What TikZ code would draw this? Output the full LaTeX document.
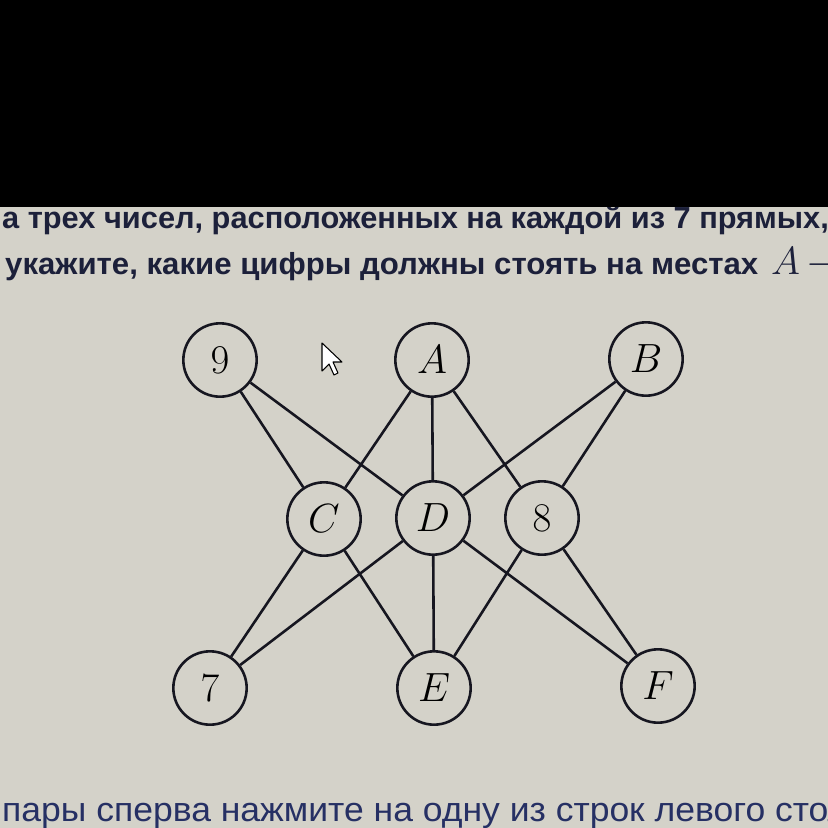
\documentclass[tikz,border=0pt]{standalone}
\usepackage{graphicx}
\usepackage{fontspec}
\setmainfont{Liberation Sans}
\definecolor{bg}{RGB}{212,210,201}
\definecolor{ink}{RGB}{28,32,58}
\definecolor{ink2}{RGB}{38,48,100}
\definecolor{circ}{RGB}{22,22,32}
\newcommand{\vlab}[1]{\scalebox{1.4}{$#1$}}
\tikzset{
  vtx/.style={circle,draw=circ,line width=2.2pt,minimum size=2.2cm,inner sep=0pt,
    font=\fontsize{24.88}{30}\selectfont},
  edge/.style={draw=circ,line width=2.2pt},
  toptext/.style={anchor=base west,inner sep=0pt,text=ink,font=\bfseries\fontsize{26}{30}\selectfont},
  bottext/.style={anchor=base west,inner sep=0pt,text=ink2,font=\fontsize{29}{32}\selectfont}
}
\begin{document}
\begin{tikzpicture}[x=0.03cm,y=-0.03cm]
\useasboundingbox (0,0) rectangle (828,828);
\clip (0,0) rectangle (828,828);
\fill[bg] (0,0) rectangle (828,828);
% text lines
\node[toptext] (l1) at (2,228) {\scalebox{1.01}[1]{а трех чисел, расположенных на каждой из 7 прямых,}};
\node[toptext] (l2) at (5,274) {\scalebox{1.023}[1]{укажите, какие цифры должны стоять на местах}\hspace{11pt}\scalebox{1.35}{$A\,-$}};
\node[bottext] (l3) at (2,821) {\scalebox{1.045}[1]{пары сперва нажмите на одну из строк левого столбца}};
\fill[black] (0,0) rectangle (828,207);
% vertices
\node[vtx] (n9) at (220,360) {\vlab{9}};
\node[vtx] (A) at (432,360) {\vlab{A}};
\node[vtx] (B) at (646,359) {\vlab{B}};
\node[vtx] (C) at (324,519) {\vlab{C}};
\node[vtx] (D) at (433,518) {\vlab{D}};
\node[vtx] (n8) at (542,518) {\vlab{8}};
\node[vtx] (n7) at (210,688) {\vlab{7}};
\node[vtx] (E) at (434,688) {\vlab{E}};
\node[vtx] (F) at (658,686) {\vlab{F}};
% edges
\path[edge] (n9) -- (C) (C) -- (E)
            (n9) -- (D) (D) -- (F)
            (A) -- (C) (C) -- (n7)
            (A) -- (D) (D) -- (E)
            (A) -- (n8) (n8) -- (F)
            (B) -- (D) (D) -- (n7)
            (B) -- (n8) (n8) -- (E);
% cursor
\filldraw[fill=white,draw=black,line width=0.9pt,line join=round]
  (322,343) -- (322,371) -- (329,364) -- (334,375) -- (338,373) -- (333,362) -- (342,362) -- cycle;
\end{tikzpicture}
\end{document}
